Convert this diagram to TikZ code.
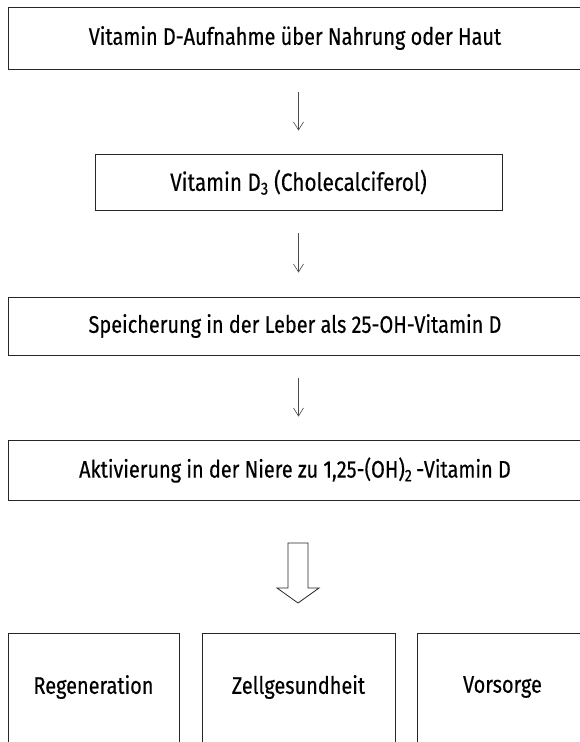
\documentclass[tikz,border=0pt]{standalone}
\usepackage{fontspec}
\setmainfont{Fira Sans}[FakeStretch=0.83,FakeBold=0.35]
\usetikzlibrary{arrows.meta}
\begin{document}
\begin{tikzpicture}[x=1pt,y=-1pt,
  box/.style={draw=black!85,line width=0.9pt,inner sep=0pt},
  lbl/.style={inner sep=0pt,font=\fontsize{24}{28}\selectfont},
  thinarrow/.style={draw=black!70,line width=0.6pt,-{Straight Barb[length=8pt,width=10pt]}},
  bigarrow/.style={draw=black!85,line width=0.8pt,fill=white}]
\useasboundingbox (0,0) rectangle (579,742);
\fill[white] (0,0) rectangle (579,742);
\node[box,minimum width=574pt,minimum height=62pt] (b1) at (295,38) {};
\node[lbl] (t1) at (b1.center) {Vitamin D-Aufnahme über Nahrung oder Haut};
\node[box,minimum width=407pt,minimum height=56.5pt] (b2) at (298.5,182.25) {};
\node[lbl,font=\fontsize{25}{29}\selectfont] (t2) at (b2.center) {Vitamin D\textsubscript{3} (Cholecalciferol)};
\node[box,minimum width=574pt,minimum height=58pt] (b3) at (295,326) {};
\node[lbl] (t3) at (b3.center) {Speicherung in der Leber als 25-OH-Vitamin D};
\node[box,minimum width=574pt,minimum height=60pt] (b4) at (295,470) {};
\node[lbl] (t4) at (b4.center) {Aktivierung in der Niere zu 1,25-(OH)\textsubscript{2}\,-Vitamin D};
\node[box,minimum width=171pt,minimum height=140pt,anchor=north] (r1) at (93.5,633) {};
\node[lbl] (s1) at (93.5,687) {Regeneration};
\node[box,minimum width=193pt,minimum height=140pt,anchor=north] (r2) at (298.5,633) {};
\node[lbl] (s2) at (298.5,687) {Zellgesundheit};
\node[box,minimum width=171pt,minimum height=140pt,anchor=north] (r3) at (502.5,633) {};
\node[lbl] (s3) at (502.5,687) {Vorsorge};
\draw[thinarrow,shorten <=23pt,shorten >=23pt] (b1.south -| b2.center) -- (b2.north);
\draw[thinarrow,shorten <=22.5pt,shorten >=24pt] (b2.south) -- (b3.north -| b2.center);
\draw[thinarrow,shorten <=23pt,shorten >=23pt] (b3.south -| b2.center) -- (b4.north -| b2.center);
\draw[bigarrow] (288,543) -- (288,588) -- (277,588) -- (298,603) -- (319,588) -- (308,588) -- (308,543) -- cycle;
\end{tikzpicture}
\end{document}
